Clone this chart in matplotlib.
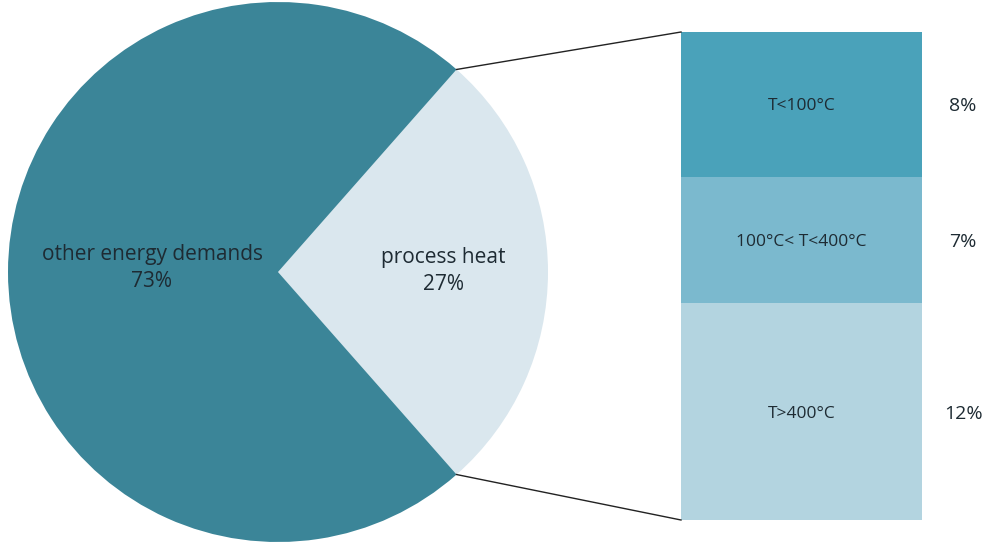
import matplotlib.pyplot as plt
import numpy as np

# pie data
pie_labels = ['process heat', 'other energy demands']
pie_values = [27, 73]
pie_colors = ['#DAE7EE', '#3B8598']

# breakdown of process heat
bar_labels = ['T>400°C', '100°C< T<400°C', 'T<100°C']
bar_values = [12, 7, 8]
bar_colors = ['#B3D4E0', '#7BB9CE', '#4AA2BA']

plt.rcParams['font.family'] = ['Open Sans', 'DejaVu Sans']
txt = '#1E2B33'

fig = plt.figure(figsize=(9.89, 5.42), dpi=100)
ax = fig.add_axes([0, 0, 1, 1])

# pie, centred so the small wedge points right
cx, cy, r = 278, 270, 270
half = pie_values[0] / sum(pie_values) * 360 / 2
ax.pie(pie_values, colors=pie_colors, startangle=-half, counterclock=True,
       center=(cx, cy), radius=r, frame=True,
       wedgeprops=dict(linewidth=0))
ax.set_xlim(0, 989)
ax.set_ylim(0, 542)
ax.set_aspect('equal')
ax.axis('off')

ax.text(443, 271, f'{pie_labels[0]}\n{pie_values[0]}%', ha='center', va='center',
        fontsize=15, color=txt, linespacing=1.4)
ax.text(152, 274, f'{pie_labels[1]}\n{pie_values[1]}%', ha='center', va='center',
        fontsize=15, color=txt, linespacing=1.4)

# stacked bar
bx0, bx1 = 681, 922
by0, by1 = 22, 510
scale = (by1 - by0) / sum(bar_values)
bottom = by0
for lab, v, c in zip(bar_labels, bar_values, bar_colors):
    h = v * scale
    ax.bar((bx0 + bx1) / 2, h, width=bx1 - bx0, bottom=bottom, color=c, linewidth=0)
    ax.text((bx0 + bx1) / 2, bottom + h / 2 - 2, lab, ha='center', va='center',
            fontsize=12.5, color=txt)
    ax.text(963, bottom + h / 2 - 2, f'{v}%', ha='center', va='center',
            fontsize=14, color=txt)
    bottom += h

# connector lines
a = np.deg2rad(half)
ax.plot([cx + r * np.cos(a), bx0], [cy + r * np.sin(a), by1], color='#222222', lw=1)
ax.plot([cx + r * np.cos(a), bx0], [cy - r * np.sin(a), by0], color='#222222', lw=1)

fig.savefig('out.png', dpi=100)
